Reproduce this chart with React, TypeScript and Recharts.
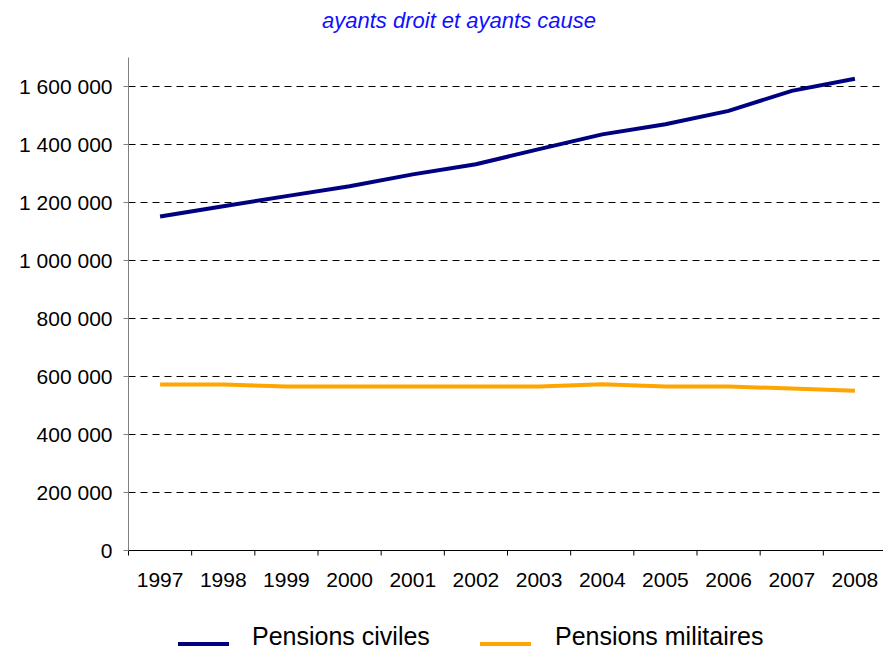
import { LineChart, Line, XAxis, YAxis, CartesianGrid, Legend } from 'recharts';

const years = ['1997', '1998', '1999', '2000', '2001', '2002', '2003', '2004', '2005', '2006', '2007', '2008'];
const pensionsCiviles = [1152000, 1187000, 1222000, 1256000, 1297000, 1332000, 1384000, 1435000, 1470000, 1516000, 1585000, 1627000];
const pensionsMilitaires = [572000, 572000, 565500, 565500, 565500, 565500, 565500, 573000, 565500, 565500, 558500, 550500];
const yTicks = [0, 200000, 400000, 600000, 800000, 1000000, 1200000, 1400000, 1600000];

const chartData = years.map((year, i) => ({
  idx: i,
  year,
  civiles: pensionsCiviles[i],
  militaires: pensionsMilitaires[i],
}));

// boundaries between categories, like the Excel axis
const xTicks = years.map((_, i) => i - 0.5).concat([years.length - 0.5]);

const CHART_W = 890;
const CHART_H = 650;
// half-pixel offsets keep the 1px grid/axis lines crisp
const MARGIN = { top: 57.5, right: 3.5, bottom: 0, left: 0.5 };
const Y_W = 128;
const HALF_STEP = (CHART_W - MARGIN.left - MARGIN.right - Y_W) / years.length / 2;

const FONT = '"Liberation Sans", Arial, sans-serif';

const formatNumber = (v: number) => String(v).replace(/\B(?=(\d{3})+(?!\d))/g, ' ');

const YearTick = (props: any) => {
  const { x, y, payload } = props;
  const i = payload.value + 0.5;
  if (i >= years.length) return null;
  return (
    <text x={x + HALF_STEP} y={y} dy="0.71em" textAnchor="middle" fill="#000" fontSize={21} fontFamily={FONT}>
      {years[i]}
    </text>
  );
};

const LegendContent = () => (
  <div style={{ position: 'relative', height: 49.5, fontFamily: FONT, fontSize: 25, color: '#000' }}>
    <div style={{ position: 'absolute', left: 178, top: 41, width: 51, height: 4, background: '#000080' }} />
    <div style={{ position: 'absolute', left: 252, top: 21, lineHeight: '28px', whiteSpace: 'nowrap' }}>Pensions civiles</div>
    <div style={{ position: 'absolute', left: 480, top: 41, width: 51, height: 4, background: '#FFA500' }} />
    <div style={{ position: 'absolute', left: 555, top: 21, lineHeight: '28px', whiteSpace: 'nowrap' }}>Pensions militaires</div>
  </div>
);

export default function App() {
  return (
    <div style={{ position: 'absolute', left: 0, top: 0, width: 883, height: 650, overflow: 'hidden', background: '#fff' }}>
      <div
        style={{
          position: 'absolute',
          top: 8,
          left: 0,
          width: 918,
          textAlign: 'center',
          fontFamily: FONT,
          fontStyle: 'italic',
          fontSize: 22,
          color: '#1010ff',
          whiteSpace: 'nowrap',
        }}
      >
        ayants droit et ayants cause
      </div>
      <LineChart width={CHART_W} height={CHART_H} data={chartData} margin={MARGIN}>
        <CartesianGrid
          horizontal
          vertical={false}
          horizontalValues={yTicks.slice(1)}
          stroke="#000"
          strokeDasharray="7 5"
        />
        <XAxis
          dataKey="idx"
          type="number"
          domain={[-0.5, years.length - 0.5]}
          ticks={xTicks}
          interval={0}
          tick={<YearTick />}
          tickSize={5}
          tickMargin={17}
          height={50}
          axisLine={{ stroke: '#000' }}
          tickLine={{ stroke: '#000' }}
        />
        <YAxis
          domain={[0, 1700000]}
          ticks={yTicks}
          interval={0}
          width={Y_W}
          tickSize={5}
          tickMargin={11}
          tickFormatter={formatNumber}
          tick={{ fill: '#000', fontSize: 21, fontFamily: FONT }}
          axisLine={{ stroke: '#808080' }}
          tickLine={{ stroke: '#808080' }}
        />
        <Legend verticalAlign="bottom" height={49.5} content={<LegendContent />} wrapperStyle={{ left: 0, width: CHART_W }} />
        <Line type="linear" dataKey="civiles" stroke="#000080" strokeWidth={4} dot={false} isAnimationActive={false} />
        <Line type="linear" dataKey="militaires" stroke="#FFA500" strokeWidth={4} dot={false} isAnimationActive={false} />
      </LineChart>
    </div>
  );
}
